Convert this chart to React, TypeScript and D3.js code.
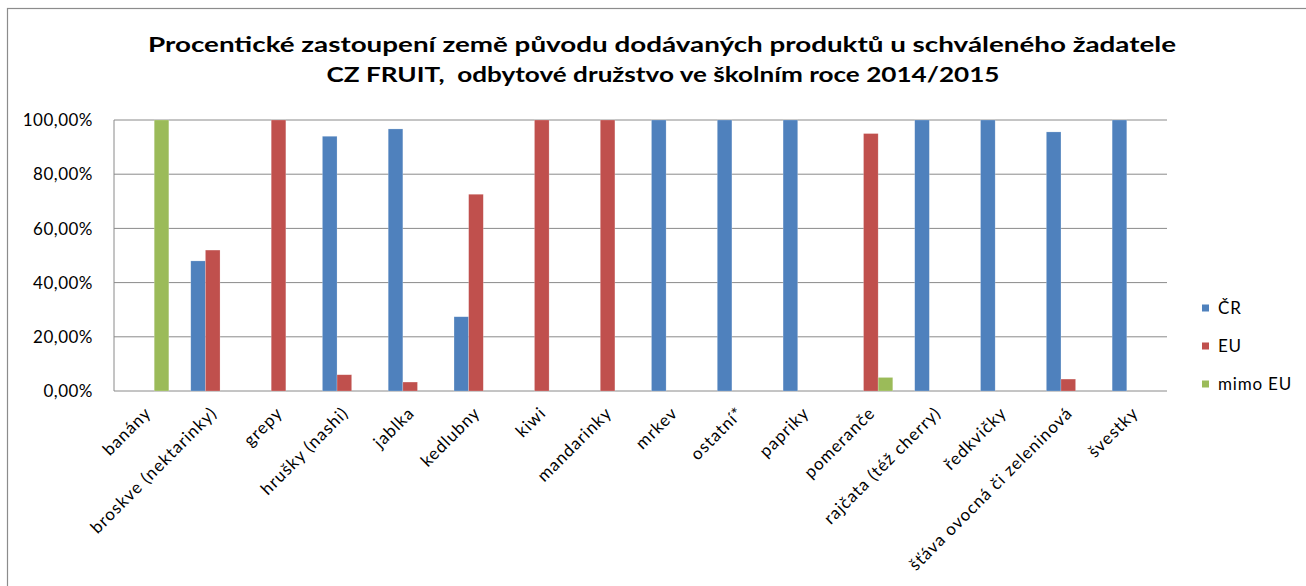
import React from "react";
import * as d3 from "d3";

const categories = [
  "banány",
  "broskve (nektarinky)",
  "grepy",
  "hrušky (nashi)",
  "jablka",
  "kedlubny",
  "kiwi",
  "mandarinky",
  "mrkev",
  "ostatní*",
  "papriky",
  "pomeranče",
  "rajčata (též cherry)",
  "ředkvičky",
  "šťáva ovocná či zeleninová",
  "švestky",
];

const seriesNames = ["ČR", "EU", "mimo EU"];
const seriesColors = ["#4F81BD", "#C0504D", "#9BBB59"];

const valuesCR = [0, 48, 0, 94, 96.7, 27.4, 0, 0, 100, 100, 100, 0, 100, 100, 95.6, 100];
const valuesEU = [0, 52, 100, 6, 3.3, 72.6, 100, 100, 0, 0, 0, 95, 0, 0, 4.4, 0];
const valuesMimoEU = [100, 0, 0, 0, 0, 0, 0, 0, 0, 0, 0, 5, 0, 0, 0, 0];

const yTicks = [0, 20, 40, 60, 80, 100];

const titleLines = [
  "Procentické zastoupení země původu dodávaných produktů u schváleného žadatele",
  "CZ FRUIT,  odbytové družstvo ve školním roce 2014/2015",
];

const W = 1306;
const H = 586;
const FONT = "Lato, 'Open Sans', sans-serif";

export default function App() {
  const left = 114;
  const right = 1167;
  const top = 120;
  const bottom = 391;

  const x = d3
    .scaleBand<string>()
    .domain(categories)
    .range([left, right])
    .paddingInner(1 / 3)
    .paddingOuter(1 / 6);
  const xs = d3
    .scaleBand<string>()
    .domain(seriesNames)
    .range([0, x.bandwidth()])
    .padding(0);
  const y = d3.scaleLinear().domain([0, 100]).range([bottom, top]);

  const series = [valuesCR, valuesEU, valuesMimoEU];
  const fmt = (v: number) => v.toFixed(2).replace(".", ",") + "%";
  const keepSpaces = (s: string) => s.replace(/  /g, " \u00A0");

  return (
    <svg
      width={W}
      height={H}
      style={{ position: "absolute", left: 0, top: 0, display: "block" }}
    >
      <rect x={0} y={0} width={W} height={H} fill="#fff" />
      <rect
        x={7.5}
        y={8.5}
        width={W + 20}
        height={H + 20}
        fill="none"
        stroke="#8c8c8c"
        strokeWidth={1.2}
      />
      {/* title */}
      <g fontFamily={FONT} fontWeight="bold" fill="#000" textAnchor="middle">
        <text x={662} y={52} fontSize={21} textLength={1028} lengthAdjust="spacingAndGlyphs">
          {keepSpaces(titleLines[0])}
        </text>
        <text x={663} y={82} fontSize={21} textLength={673} lengthAdjust="spacingAndGlyphs">
          {keepSpaces(titleLines[1])}
        </text>
      </g>
      {/* gridlines */}
      <g>
        {yTicks.map((t) => (
          <line
            key={t}
            x1={left}
            x2={right}
            y1={y(t)}
            y2={y(t)}
            stroke="#8a8a8a"
            strokeWidth={1}
          />
        ))}
        <line x1={left} x2={left} y1={top} y2={bottom} stroke="#8a8a8a" strokeWidth={1} />
      </g>
      {/* y labels */}
      <g fontFamily={FONT} fontSize={17} fill="#000" textAnchor="end" letterSpacing={0.5}>
        {yTicks.map((t) => (
          <text key={t} x={93} y={y(t)} dy="0.36em">
            {fmt(t)}
          </text>
        ))}
      </g>
      {/* bars */}
      {series.map((vals, si) => (
        <g key={si} fill={seriesColors[si]}>
          {categories.map((c, ci) =>
            vals[ci] > 0 ? (
              <rect
                key={c}
                x={(x(c) as number) + (xs(seriesNames[si]) as number)}
                y={y(vals[ci])}
                width={xs.bandwidth()}
                height={y(0) - y(vals[ci])}
                stroke="#ffffff"
                strokeOpacity={0.35}
                strokeWidth={0.6}
              />
            ) : null
          )}
        </g>
      ))}
      {/* x labels */}
      <g fontFamily={FONT} fontSize={17} fill="#000" textAnchor="end" letterSpacing={1}>
        {categories.map((c) => {
          const cx = (x(c) as number) + x.bandwidth() / 2 + 1;
          const cy = bottom + 19;
          return (
            <text key={c} x={cx} y={cy} transform={`rotate(-45 ${cx} ${cy})`} dy="0.35em">
              {c}
            </text>
          );
        })}
      </g>
      {/* legend */}
      <g fontFamily={FONT} fontSize={17} fill="#000" letterSpacing={0.8}>
        {seriesNames.map((s, i) => {
          const ly = 308 + i * 38;
          return (
            <g key={s}>
              <rect x={1202} y={ly - 3.5} width={7} height={7} fill={seriesColors[i]} />
              <text x={1218} y={ly} dy="0.36em">
                {s}
              </text>
            </g>
          );
        })}
      </g>
    </svg>
  );
}
